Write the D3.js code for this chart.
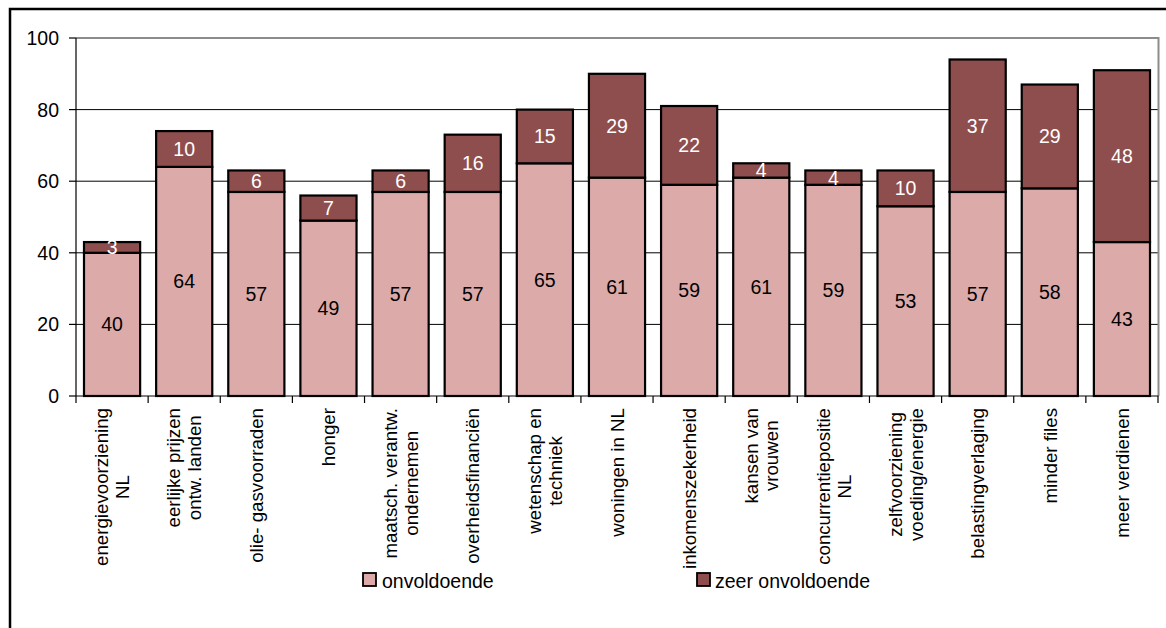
<!DOCTYPE html>
<html><head><meta charset="utf-8">
<script src="https://cdn.jsdelivr.net/npm/d3@7"></script>
<style>html,body{margin:0;padding:0;background:#fff;}svg{display:block;font-family:Arial,"Liberation Sans",sans-serif;}</style>
</head><body>
<svg id="c" width="1166" height="628"></svg>
<script>
const categories = ["energievoorziening\nNL","eerlijke prijzen\nontw. landen","olie- gasvoorraden","honger","maatsch. verantw.\nondernemen","overheidsfinanciën","wetenschap en\ntechniek","woningen in NL","inkomenszekerheid","kansen van\nvrouwen","concurrentiepositie\nNL","zelfvoorziening\nvoeding/energie","belastingverlaging","minder files","meer verdienen"];
const onvoldoende = [40,64,57,49,57,57,65,61,59,61,59,53,57,58,43];
const zeerOnvoldoende = [3,10,6,7,6,16,15,29,22,4,4,10,37,29,48];
const seriesNames = ["onvoldoende","zeer onvoldoende"];
const yTicks = [0,20,40,60,80,100];
const colors = ["#DBAAA9","#8F4E4E"];

const svg = d3.select("#c");
const L=76, R=1158, T=38, B=396;

// outer frame
svg.append("rect").attr("x",10).attr("y",9).attr("width",1300).attr("height",800)
  .attr("fill","none").attr("stroke","#000").attr("stroke-width",2.5);

const x = d3.scaleBand().domain(categories).range([L,R]).paddingInner(16/72.13).paddingOuter(8/72.13);
const y = d3.scaleLinear().domain([0,100]).range([B,T]);

// gridlines
svg.append("g").selectAll("line").data(yTicks.filter(t=>t>0 && t<100)).join("line")
  .attr("x1",L).attr("x2",R).attr("y1",d=>y(d)).attr("y2",d=>y(d))
  .attr("stroke","#000").attr("stroke-width",1);
// plot border top/right grey
svg.append("path").attr("d",`M${L},${y(100)}H${R+0.5}V${B}`).attr("fill","none")
  .attr("stroke","#8c8c8c").attr("stroke-width",2);

// stacked data
const rows = categories.map((c,i)=>({cat:c, onvoldoende:onvoldoende[i], zeer:zeerOnvoldoende[i]}));
const stack = d3.stack().keys(["onvoldoende","zeer"])(rows);

const g = svg.append("g");
stack.forEach((layer,li)=>{
  g.append("g").selectAll("rect").data(layer).join("rect")
    .attr("x",d=>x(d.data.cat)).attr("width",x.bandwidth())
    .attr("y",d=>y(d[1])).attr("height",d=>y(d[0])-y(d[1]))
    .attr("fill",colors[li]).attr("stroke","#000").attr("stroke-width",2.2);
});
stack.forEach((layer,li)=>{
  g.append("g").selectAll("text").data(layer).join("text")
    .attr("x",d=>x(d.data.cat)+x.bandwidth()/2)
    .attr("y",d=>(y(d[0])+y(d[1]))/2)
    .attr("dy","0.36em").attr("text-anchor","middle")
    .attr("font-size",19.5).attr("fill",li===0?"#000":"#fff")
    .text(d=>d[1]-d[0]);
});

// y axis
const ya = svg.append("g");
ya.append("line").attr("x1",L).attr("x2",L).attr("y1",T).attr("y2",B).attr("stroke","#000").attr("stroke-width",1.2);
ya.selectAll("line.t").data(yTicks).join("line").attr("class","t")
  .attr("x1",L-7).attr("x2",L).attr("y1",d=>y(d)).attr("y2",d=>y(d)).attr("stroke","#000").attr("stroke-width",1.2);
ya.selectAll("text").data(yTicks).join("text")
  .attr("x",L-17).attr("y",d=>y(d)).attr("dy","0.36em").attr("text-anchor","end")
  .attr("font-size",19.5).attr("fill","#000").text(d=>d);

// x axis
const xa = svg.append("g");
xa.append("line").attr("x1",L).attr("x2",R+0.5).attr("y1",B).attr("y2",B).attr("stroke","#000").attr("stroke-width",1.2);
const step = x.step();
const bounds = d3.range(categories.length+1).map(i=>L+i*step);
xa.selectAll("line.t").data(bounds).join("line").attr("class","t")
  .attr("x1",d=>d).attr("x2",d=>d).attr("y1",B).attr("y2",B+7).attr("stroke","#000").attr("stroke-width",1.2);

const lh = 21;
categories.forEach(c=>{
  const lines = c.split("\n");
  const cx = x(c)+x.bandwidth()/2;
  const grp = xa.append("g").attr("transform",`translate(${cx},408) rotate(-90)`);
  const texts = lines.map((ln,i)=>grp.append("text").attr("text-anchor","middle")
      .attr("font-size",18.7).attr("fill","#000")
      .attr("y",-(lines.length-1)*lh/2 + i*lh).attr("dy","0.36em").text(ln));
  const maxW = d3.max(texts,t=>t.node().getComputedTextLength());
  texts.forEach(t=>t.attr("x",-maxW/2));
});

// legend
const leg = [{x:363,tx:382},{x:697,tx:715}];
leg.forEach((p,i)=>{
  svg.append("rect").attr("x",p.x).attr("y",573).attr("width",13).attr("height",13)
    .attr("fill",colors[i]).attr("stroke","#000").attr("stroke-width",1.8);
  svg.append("text").attr("x",p.tx).attr("y",587.5).attr("font-size",19.5).attr("fill","#000").text(seriesNames[i]);
});
</script>
</body></html>
